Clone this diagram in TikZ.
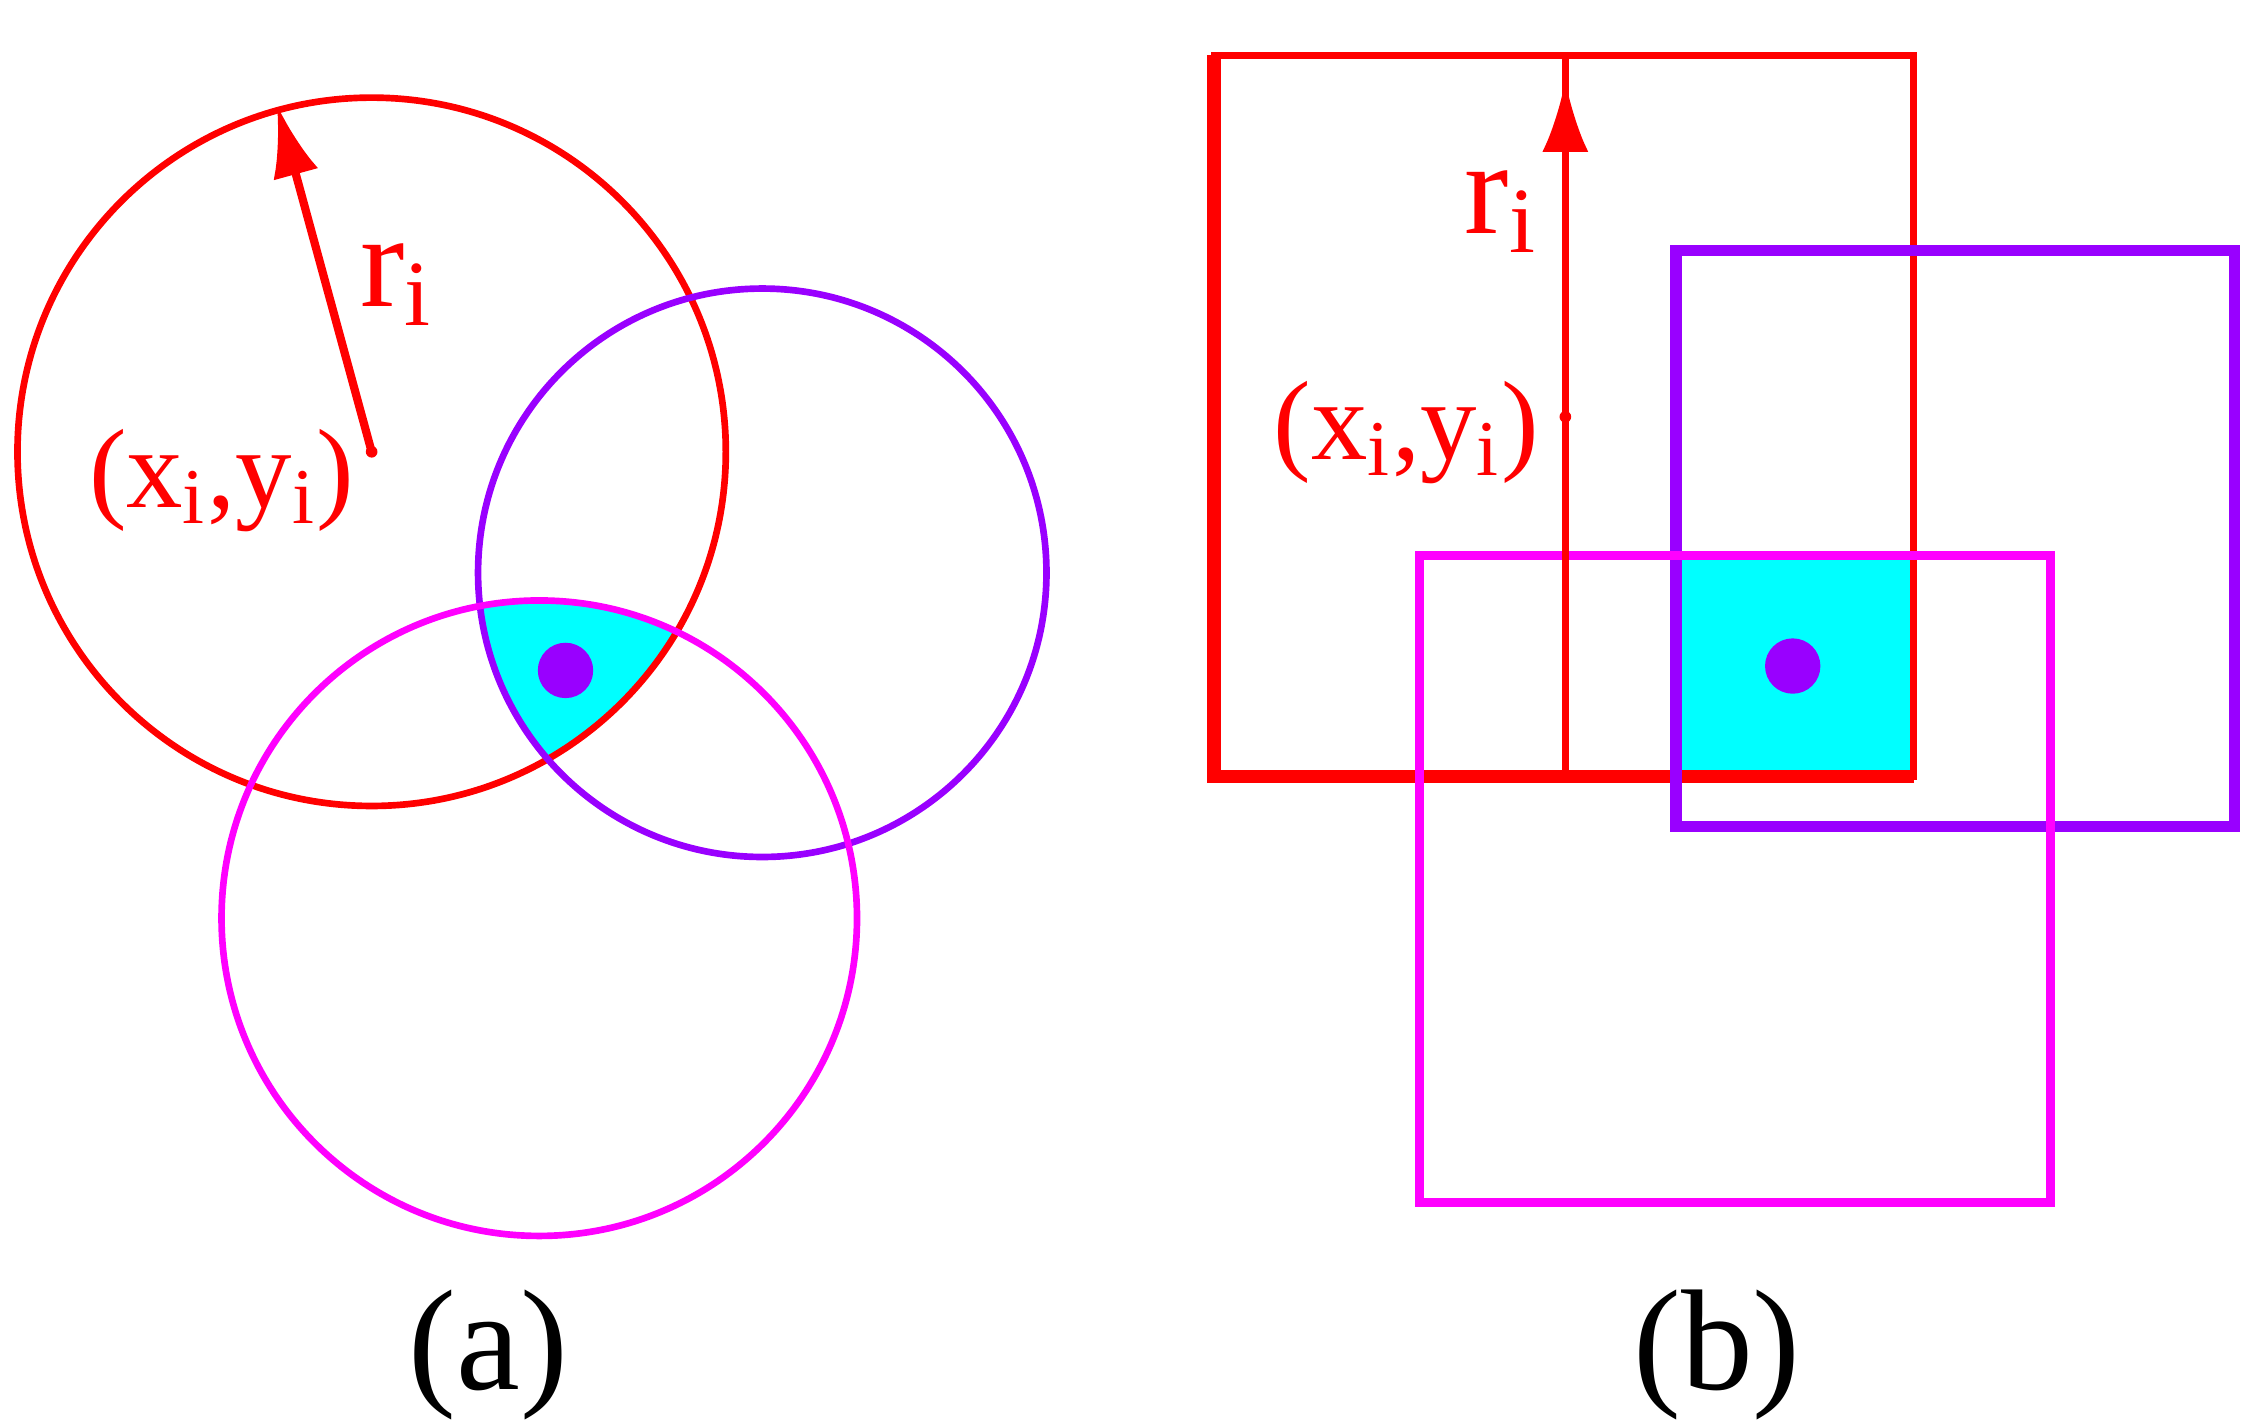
\documentclass[tikz,border=0pt]{standalone}
\usepackage{fontspec}
\setmainfont{Liberation Serif}
\usetikzlibrary{arrows.meta}
\definecolor{rd}{RGB}{255,0,0}
\definecolor{pu}{RGB}{153,0,255}
\definecolor{mg}{RGB}{255,0,255}
\definecolor{cy}{RGB}{0,255,255}
\begin{document}
\begin{tikzpicture}[x=0.01cm,y=-0.01cm,
  lw/.style={line width=1.3pt},
  lbl/.style={text=rd,inner sep=0pt}]
\useasboundingbox (0,0) rectangle (1552,974);
% (a)
\begin{scope}
\clip (255,310) circle[radius=243];
\clip (523,393) circle[radius=195];
\fill[cy] (370,630) circle[radius=218];
\end{scope}
\draw[rd,lw] (255,310) circle[radius=243];
\draw[pu,lw] (523,393) circle[radius=195];
\draw[mg,lw] (370,630) circle[radius=218];
\fill[pu] (388,460) circle[radius=19];
\coordinate (ca) at (255,310);
\coordinate (ta) at (190,72);
\fill[rd] (ca) circle[radius=4];
\draw[rd,line width=1.6pt,-{Latex[length=14pt,width=9pt]}] (ca) -- (ta);
\node[lbl,font=\fontsize{26}{26}\selectfont] (ra) at (272,195) {r$_{\mathrm{i}}$};
\node[lbl,font=\fontsize{22}{22}\selectfont] (pa) at (152,330) {(x$_{\mathrm{i}}$,y$_{\mathrm{i}}$)};
\node[font=\fontsize{28}{28}\selectfont,inner sep=0pt] (la) at (335,930) {(a)};
% (b)
\fill[cy] (1150,381) rectangle (1313,531);
\draw[rd,line width=1.4pt] (833,38) rectangle (1313,533);
\draw[rd,line width=2.6pt] (833,38) -- (833,533) -- (1313,533);
\draw[pu,line width=2.2pt] (1150,172) rectangle (1533,567);
\draw[mg,line width=1.8pt] (974,381) rectangle (1407,825);
\fill[pu] (1230,457) circle[radius=19];
\coordinate (bb) at (1074,533);
\coordinate (bt) at (1074,38);
\coordinate (bh) at (1074,55);
\draw[rd,line width=1.4pt] (bb) -- (bt);
\draw[rd,line width=1.4pt,-{Latex[length=14pt,width=9pt]}] (bb) -- (bh);
\fill[rd] (1074,286) circle[radius=4];
\node[lbl,font=\fontsize{26}{26}\selectfont] (rb) at (1030,145) {r$_{\mathrm{i}}$};
\node[lbl,font=\fontsize{22}{22}\selectfont] (pb) at (965,297) {(x$_{\mathrm{i}}$,y$_{\mathrm{i}}$)};
\node[font=\fontsize{28}{28}\selectfont,inner sep=0pt] (lb) at (1178,930) {(b)};
\end{tikzpicture}
\end{document}
